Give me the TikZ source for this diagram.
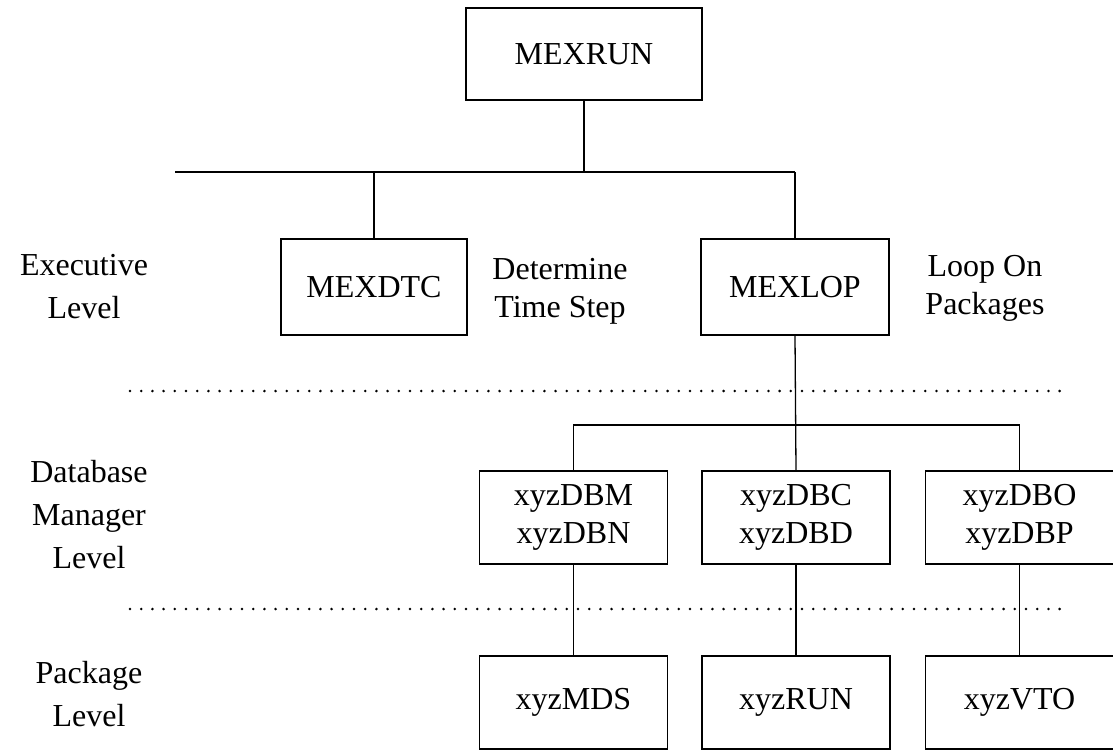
\documentclass[tikz,border=0pt]{standalone}
\usepackage{fontspec}
\setmainfont{Liberation Serif}
\begin{document}
\begin{tikzpicture}[x=1pt,y=-1pt,
  every node/.style={font=\fontsize{32}{38}\selectfont, inner sep=0pt},
  box/.style={draw, line width=1.8pt, minimum width=188pt, minimum height=93pt, align=center},
  desc/.style={align=center},
  levellabel/.style={align=center, font=\fontsize{32}{43}\selectfont},
  link/.style={line width=1.3pt},
  sep/.style={line width=2.8pt, line cap=round, dash pattern=on 0pt off 11.2pt}]
\useasboundingbox (0,0) rectangle (1113,753);

% executive level
\node[box, minimum width=236pt, minimum height=92pt] (mexrun) at (584,54) {MEXRUN};
\node[box, minimum width=186pt, minimum height=96pt] (mexdtc) at (374,287) {MEXDTC};
\node[box, minimum height=96pt] (mexlop) at (795,287) {MEXLOP};
\node[desc] (dtcdesc) at (560,291) {Determine\\Time Step};
\node[desc] (lopdesc) at (985,288) {Loop On\\Packages};

% database manager level
\node[box] (dbm) at (573.5,517.5) {xyzDBM\\xyzDBN};
\node[box] (dbc) at (796,517.5) {xyzDBC\\xyzDBD};
\node[box] (dbo) at (1019.5,517.5) {xyzDBO\\xyzDBP};

% package level
\node[box] (mds) at (573.5,702.5) {xyzMDS};
\node[box] (run) at (796,702.5) {xyzRUN};
\node[box] (vto) at (1019.5,702.5) {xyzVTO};

% level names
\node[levellabel] (lvexec) at (84,287) {Executive\\Level};
\node[levellabel] (lvdb) at (89,515) {Database\\Manager\\Level};
\node[levellabel] (lvpkg) at (89,694) {Package\\Level};

% level separators
\coordinate (sepAL) at (130,391);
\coordinate (sepAR) at (1066,391);
\coordinate (sepBL) at (130,609);
\coordinate (sepBR) at (1066,609);
\draw[sep] (sepAL) -- (sepAR);
\draw[sep] (sepBL) -- (sepBR);

% top bus
\coordinate (busL) at (175,172);
\coordinate (busR) at (795,172);
\draw[link] (busL) -- (busR);
\draw[link] (mexrun.south) -- (mexrun.south |- busL);
\draw[link] (mexdtc.north |- busL) -- (mexdtc.north);
\draw[link] (busR) -- (mexlop.north);

% package bus
\coordinate (busM) at (796,425);
\draw[link] (mexlop.south) -- (dbc.north);
\draw[link] (dbm.north) -- (dbm.north |- busM) -- (dbo.north |- busM) -- (dbo.north);

% drops to package routines
\draw[link] (dbm.south) -- (mds.north);
\draw[link] (dbc.south) -- (run.north);
\draw[link] (dbo.south) -- (vto.north);
\end{tikzpicture}
\end{document}
